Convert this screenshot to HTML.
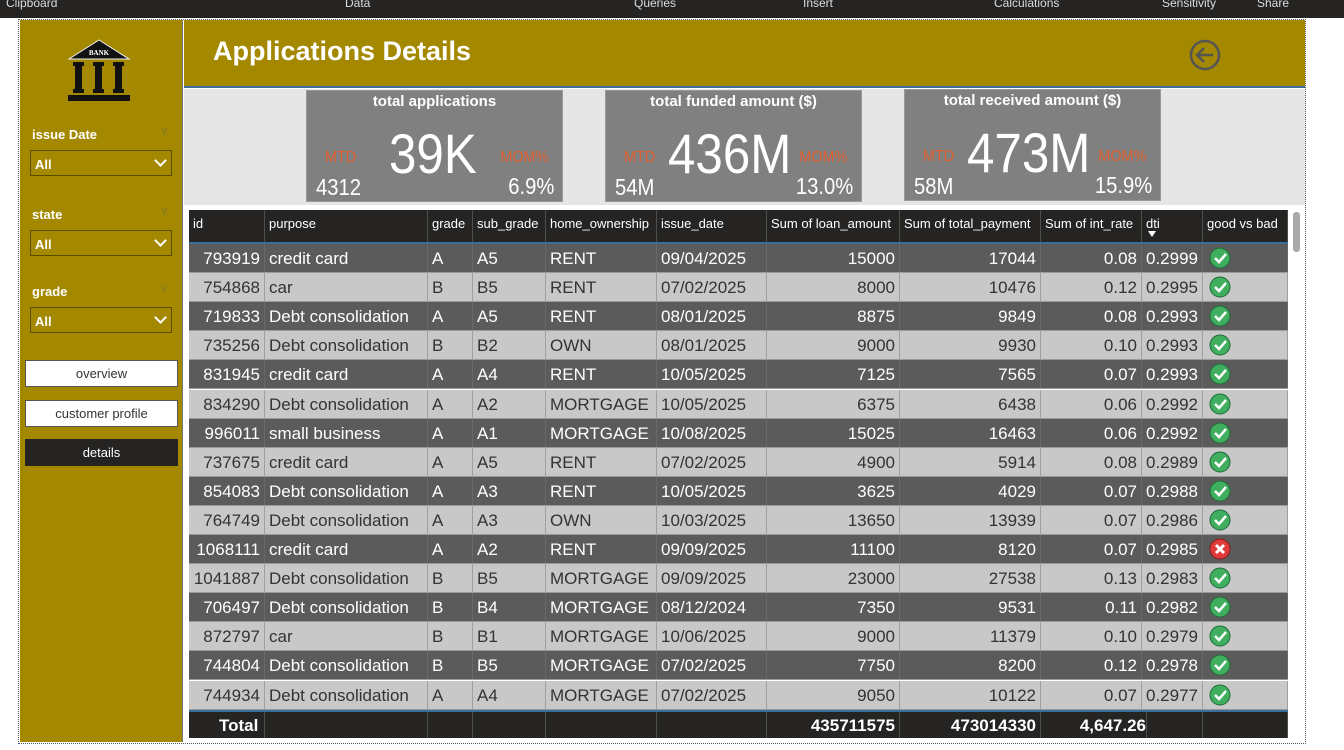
<!DOCTYPE html>
<html><head><meta charset="utf-8">
<style>
*{box-sizing:border-box;margin:0;padding:0}
body{width:1344px;height:750px;overflow:hidden;background:#fff;font-family:"Liberation Sans",sans-serif;position:relative}
.abs{position:absolute}
#topbar{left:0;top:0;width:1344px;height:18px;background:#252423;color:#ddd;font-size:12px}
#topbar span{position:absolute;top:-4px}
#frame{left:18px;top:19px;width:1288px;height:725px;border:1px dotted #555}
#side{left:20px;top:20px;width:163px;height:722px;background:#a38800;border-right:1px solid #6a7a7a}
.flabel{color:#fff;font-weight:bold;font-size:13px;position:absolute;left:12px}
.fchev{position:absolute;left:140px;color:#8a7a20;font-size:12px}
.dd{position:absolute;left:10px;width:142px;height:26px;border:1.5px solid #5b4d00;color:#fff;font-weight:bold;font-size:13px;padding:6px 4px}
.dd i{position:absolute;right:6px;top:5px;width:9px;height:9px;border-right:2px solid #fff;border-bottom:2px solid #fff;transform:rotate(45deg)}
.btn{position:absolute;left:5px;width:153px;height:27px;background:#fff;border:1px solid #555;font-size:13px;color:#333;text-align:center;line-height:25px}
#hdr{left:184px;top:20px;width:1121px;height:68px;background:#a38800;border-bottom:2px solid #3a6f9a}
#title{left:213px;top:36px;color:#fff;font-size:27px;font-weight:bold}
#gray{left:184px;top:89px;width:1121px;height:116px;background:#e6e6e6}
.card{position:absolute;width:257px;height:112px;background:#808080;color:#fff;border:1px solid #999}
.card .ct{position:absolute;top:2px;width:100%;text-align:center;font-size:15px;font-weight:bold}
.card .big{position:absolute;top:30px;font-size:56px;transform:scaleX(0.88);transform-origin:left top}
.card .mtd{position:absolute;left:18px;top:58px;color:#e06030;font-size:16px;transform:scaleX(0.9);transform-origin:left top}
.card .mom{position:absolute;right:14px;top:58px;color:#e06030;font-size:16px;transform:scaleX(0.9);transform-origin:right top}
.card .lv{position:absolute;left:9px;top:83px;font-size:23px;transform:scaleX(0.88);transform-origin:left top}
.card .rv{position:absolute;right:8px;top:82px;font-size:23px;transform:scaleX(0.88);transform-origin:right top}
#tbl{left:189px;top:210px;width:1099px}
.cell{position:absolute;overflow:hidden;white-space:nowrap;border-right:1px solid rgba(120,120,120,.5)}
</style></head><body>
<div id="topbar" class="abs">
<span style="left:6px">Clipboard</span>
<span style="left:345px">Data</span>
<span style="left:634px">Queries</span>
<span style="left:803px">Insert</span>
<span style="left:994px">Calculations</span>
<span style="left:1162px">Sensitivity</span>
<span style="left:1257px">Share</span>
</div>
<div id="frame" class="abs"></div>
<div id="side" class="abs">
<svg class="abs" style="left:46px;top:17px" width="66" height="67">
<polygon points="33,3 63,22 3,22" fill="#111" stroke="#eee" stroke-width="1"/>
<text x="33" y="18" text-anchor="middle" fill="#fff" font-size="7" font-weight="bold" font-family="Liberation Serif">BANK</text>
<rect x="7" y="25" width="11" height="4" fill="#111"/><rect x="27" y="25" width="11" height="4" fill="#111"/><rect x="47" y="25" width="11" height="4" fill="#111"/>
<rect x="9" y="29" width="7" height="24" fill="#111"/><rect x="29" y="29" width="7" height="24" fill="#111"/><rect x="49" y="29" width="7" height="24" fill="#111"/>
<rect x="7" y="52" width="11" height="4" fill="#111"/><rect x="27" y="52" width="11" height="4" fill="#111"/><rect x="47" y="52" width="11" height="4" fill="#111"/>
<rect x="2" y="58" width="62" height="6" fill="#111"/>
</svg>
<div class="flabel" style="top:107px">issue Date</div><div class="fchev" style="top:104px">&#8744;</div>
<div class="dd" style="top:130px">All<i></i></div>
<div class="flabel" style="top:187px">state</div><div class="fchev" style="top:184px">&#8744;</div>
<div class="dd" style="top:210px">All<i></i></div>
<div class="flabel" style="top:264px">grade</div><div class="fchev" style="top:261px">&#8744;</div>
<div class="dd" style="top:287px">All<i></i></div>
<div class="btn" style="top:340px">overview</div>
<div class="btn" style="top:380px">customer profile</div>
<div class="btn" style="top:419px;background:#252423;color:#fff;border-color:#252423">details</div>
</div>
<div id="hdr" class="abs"></div>
<div id="title" class="abs">Applications Details</div>
<svg class="abs" style="left:1188px;top:38px" width="34" height="34">
<circle cx="17" cy="17" r="14" fill="none" stroke="#555" stroke-width="2.5"/>
<path d="M25 17H10M16 10l-7 7 7 7" fill="none" stroke="#555" stroke-width="2.5"/>
</svg>
<div id="gray" class="abs">
<div class="card" style="left:122px;top:1px"><div class="ct">total applications</div><div class="big" style="left:82px">39K</div><div class="mtd">MTD</div><div class="mom">MOM%</div><div class="lv">4312</div><div class="rv">6.9%</div></div>
<div class="card" style="left:421px;top:1px"><div class="ct">total funded amount ($)</div><div class="big" style="left:62px">436M</div><div class="mtd">MTD</div><div class="mom">MOM%</div><div class="lv">54M</div><div class="rv">13.0%</div></div>
<div class="card" style="left:720px;top:0px"><div class="ct">total received amount ($)</div><div class="big" style="left:62px">473M</div><div class="mtd">MTD</div><div class="mom">MOM%</div><div class="lv">58M</div><div class="rv">15.9%</div></div>
</div>
<div id="tbl" class="abs"></div>
<div class="abs" style="left:1293px;top:212px;width:7px;height:40px;background:#aaa;border-radius:3px"></div>
<script>
const headers=["id","purpose","grade","sub_grade","home_ownership","issue_date","Sum of loan_amount","Sum of total_payment","Sum of int_rate","dti","good vs bad"];
const ids=["793919","754868","719833","735256","831945","834290","996011","737675","854083","764749","1068111","1041887","706497","872797","744804","744934"];
const purposes=["credit card","car","Debt consolidation","Debt consolidation","credit card","Debt consolidation","small business","credit card","Debt consolidation","Debt consolidation","credit card","Debt consolidation","Debt consolidation","car","Debt consolidation","Debt consolidation"];
const grades=["A","B","A","B","A","A","A","A","A","A","A","B","B","B","B","A"];
const subGrades=["A5","B5","A5","B2","A4","A2","A1","A5","A3","A3","A2","B5","B4","B1","B5","A4"];
const homes=["RENT","RENT","RENT","OWN","RENT","MORTGAGE","MORTGAGE","RENT","RENT","OWN","RENT","MORTGAGE","MORTGAGE","MORTGAGE","MORTGAGE","MORTGAGE"];
const dates=["09/04/2025","07/02/2025","08/01/2025","08/01/2025","10/05/2025","10/05/2025","10/08/2025","07/02/2025","10/05/2025","10/03/2025","09/09/2025","09/09/2025","08/12/2024","10/06/2025","07/02/2025","07/02/2025"];
const loans=["15000","8000","8875","9000","7125","6375","15025","4900","3625","13650","11100","23000","7350","9000","7750","9050"];
const payments=["17044","10476","9849","9930","7565","6438","16463","5914","4029","13939","8120","27538","9531","11379","8200","10122"];
const rates=["0.08","0.12","0.08","0.10","0.07","0.06","0.06","0.08","0.07","0.07","0.07","0.13","0.11","0.10","0.12","0.07"];
const dtis=["0.2999","0.2995","0.2993","0.2993","0.2993","0.2992","0.2992","0.2989","0.2988","0.2986","0.2985","0.2983","0.2982","0.2979","0.2978","0.2977"];
const good=[1,1,1,1,1,1,1,1,1,1,0,1,1,1,1,1];
const totals=["Total","","","","","","435711575","473014330","4,647.26","",""];
const colX=[0,76,239,284,357,468,578,711,852,953,1014,1099];
const align=["r","l","l","l","l","l","r","r","r","l","l"];
const tbl=document.getElementById('tbl');
function cell(parent,i,top,h,txt,bg,color,fs,bold,al){
  const d=document.createElement('div');
  d.className='cell';
  
  
  d.style.cssText=`left:${colX[i]}px;top:${top}px;width:${colX[i+1]-colX[i]}px;height:${h}px;background:${bg};color:${color};font-size:${fs}px;font-weight:${bold?'bold':'normal'};text-align:${al=='r'?'right':'left'};padding:1px 4px 0;line-height:${h}px`;
  d.textContent=txt;parent.appendChild(d);return d;
}
const hdr=document.createElement('div');


hdr.style.cssText='position:absolute;left:0;top:0;width:1099px;height:34px;background:#252423;border-bottom:2px solid #3a6f9a';
tbl.appendChild(hdr);
headers.forEach((h,i)=>{const c=cell(hdr,i,0,32,h,'#252423','#fff',13,false,'l');c.style.lineHeight='26px';
 if(h==='dti'){const a=document.createElement('div');a.style.cssText='position:absolute;left:6px;top:21px;width:0;height:0;border-left:4px solid transparent;border-right:4px solid transparent;border-top:6px solid #fff';c.appendChild(a);}});
const rowH=29.1;
const rows=[ids,purposes,grades,subGrades,homes,dates,loans,payments,rates,dtis];
ids.forEach((_,r)=>{
  const top=34+r*rowH;const dark=r%2===0;
  const bg=dark?'#5b5b5b':'#c8c8c8';const fg=dark?'#fff':'#333';
  const row=document.createElement('div');
  
  
  row.style.cssText=`position:absolute;left:0;top:${top}px;width:1099px;height:${rowH}px;border-bottom:1px solid #999`;
  tbl.appendChild(row);
  rows.forEach((arr,i)=>cell(row,i,0,rowH-1,arr[r],bg,fg,17,false,align[i]));
  const c=cell(row,10,0,rowH-1,'',bg,fg,17,false,'l');
  const ok=good[r];
  c.innerHTML=ok?'<svg width="22" height="22" style="position:absolute;left:6px;top:3px"><circle cx="11" cy="11" r="10" fill="#3fae5f" stroke="#1f6a36"/><path d="M6 11l4 4 7-8" stroke="#fff" stroke-width="2.5" fill="none"/></svg>':'<svg width="22" height="22" style="position:absolute;left:6px;top:3px"><circle cx="11" cy="11" r="10" fill="#e03a3a" stroke="#8a1a1a"/><path d="M7 7l8 8M15 7l-8 8" stroke="#fff" stroke-width="3"/></svg>';
  
  
});
const tt=34+16*rowH;
const tot=document.createElement('div');


tot.style.cssText=`position:absolute;left:0;top:${tt}px;width:1099px;height:${738-210-tt}px;background:#252423;border-top:2px solid #3a6f9a`;
tbl.appendChild(tot);
totals.forEach((t,i)=>{const c=cell(tot,i,0,738-212-tt,t,'#252423','#fff',17,true,i===0?'l':'r');if(i===0)c.style.paddingLeft='30px';if(i===8){c.style.overflow='visible';c.style.paddingRight='0';c.style.width='106px';c.style.zIndex='2';c.style.background='transparent';}});
</script>
</body></html>
